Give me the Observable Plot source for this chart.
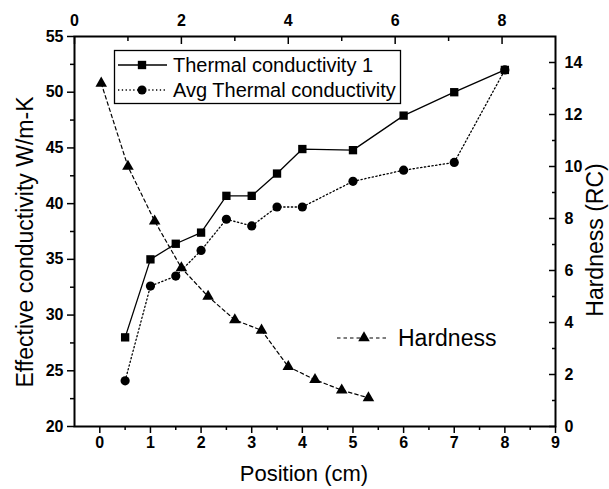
<!DOCTYPE html>
<html><head><meta charset="utf-8">
<script src="https://cdn.jsdelivr.net/npm/d3@7"></script>
<script src="https://cdn.jsdelivr.net/npm/@observablehq/plot@0.6"></script>
<style>
body{margin:0;background:#fff;}
#chart svg{display:block;}
</style></head><body><div id="chart"></div>
<script>
// Data (bottom axis: Position (cm); hardness is read on the top axis)
const positions = [0.5, 1, 1.5, 2, 2.5, 3, 3.5, 4, 5, 6, 7, 8];
const thermal1 = [28.0, 35.0, 36.4, 37.4, 40.7, 40.7, 42.7, 44.9, 44.8, 47.9, 50.0, 52.0];
const avgThermal = [24.1, 32.6, 33.5, 35.8, 38.6, 38.0, 39.7, 39.7, 42.0, 43.0, 43.7, 52.0];
const hardnessPos = [0.5, 1, 1.5, 2, 2.5, 3, 3.5, 4, 4.5, 5, 5.5];
const hardness = [13.2, 10.0, 7.9, 6.1, 5.0, 4.1, 3.7, 2.3, 1.8, 1.4, 1.1];

// Tick labels
const bottomTicks = [0, 1, 2, 3, 4, 5, 6, 7, 8, 9];
const bottomMinor = [0.5, 1.5, 2.5, 3.5, 4.5, 5.5, 6.5, 7.5, 8.5];
const topTicks = [0, 2, 4, 6, 8];
const topMinor = [1, 3, 5, 7];
const leftTicks = [20, 25, 30, 35, 40, 45, 50, 55];
const leftMinor = [22.5, 27.5, 32.5, 37.5, 42.5, 47.5, 52.5];
const rightTicks = [0, 2, 4, 6, 8, 10, 12, 14];
const rightMinor = [1, 3, 5, 7, 9, 11, 13];

const xDomain = [-0.5, 9], topDomain = [0, 9];
const yDomain = [20, 55], rightDomain = [0, 15];
const topToX = t => xDomain[0] + (t - topDomain[0]) * (xDomain[1] - xDomain[0]) / (topDomain[1] - topDomain[0]);
const xToTop = x => topDomain[0] + (x - xDomain[0]) * (topDomain[1] - topDomain[0]) / (xDomain[1] - xDomain[0]);
const rightToY = h => yDomain[0] + (h - rightDomain[0]) * (yDomain[1] - yDomain[0]) / (rightDomain[1] - rightDomain[0]);
const yToRight = y => rightDomain[0] + (y - yDomain[0]) * (rightDomain[1] - rightDomain[0]) / (yDomain[1] - yDomain[0]);

const t1Data = positions.map((p, i) => ({x: p, y: thermal1[i]}));
const avgData = positions.map((p, i) => ({x: p, y: avgThermal[i]}));
const hData = hardnessPos.map((t, i) => ({x: topToX(t), y: rightToY(hardness[i])}));

const blank = () => "";
const plot = Plot.plot({
  width: 609, height: 489,
  marginLeft: 74, marginRight: 54, marginTop: 36, marginBottom: 63,
  style: {fontFamily: "'Liberation Sans Narrow', 'Liberation Sans', Arial, sans-serif", fontSize: "16px", fontWeight: "bold", color: "black", background: "white"},
  x: {domain: xDomain},
  y: {domain: yDomain},
  marks: [
    // axes
    Plot.axisX({anchor: "bottom", ticks: bottomTicks, tickSize: 7, tickPadding: 3, label: null, strokeWidth: 1.5}),
    Plot.axisX({anchor: "bottom", ticks: bottomMinor, tickSize: 4, tickFormat: blank, label: null, strokeWidth: 1.5}),
    Plot.axisX({anchor: "top", ticks: topTicks.map(topToX), tickSize: -7, tickFormat: blank, label: null, strokeWidth: 1.5}),
    Plot.axisX({anchor: "top", ticks: topMinor.map(topToX), tickSize: -4, tickFormat: blank, label: null, strokeWidth: 1.5}),
    Plot.axisX({anchor: "top", ticks: topTicks.map(topToX), tickSize: 0, tickPadding: 11, tickFormat: v => Math.round(xToTop(v)), label: null}),
    Plot.axisY({anchor: "left", ticks: leftTicks, tickSize: 7, tickPadding: 4, label: null, strokeWidth: 1.5}),
    Plot.axisY({anchor: "left", ticks: leftMinor, tickSize: 4, tickFormat: blank, label: null, strokeWidth: 1.5}),
    Plot.axisY({anchor: "right", ticks: rightTicks.map(rightToY), tickSize: -7, tickFormat: blank, label: null, strokeWidth: 1.5}),
    Plot.axisY({anchor: "right", ticks: rightMinor.map(rightToY), tickSize: -4, tickFormat: blank, label: null, strokeWidth: 1.5}),
    Plot.axisY({anchor: "right", ticks: rightTicks.map(rightToY), tickSize: 0, tickPadding: 9, tickFormat: v => Math.round(yToRight(v)), label: null}),
    Plot.frame({stroke: "black", strokeWidth: 2}),
    // series
    Plot.line(hData, {x: "x", y: "y", stroke: "black", strokeWidth: 1.2, strokeDasharray: "3.5,3"}),
    Plot.dot(hData, {x: "x", y: "y", symbol: "triangle", r: 4.3, fill: "black", stroke: "none"}),
    Plot.line(avgData, {x: "x", y: "y", stroke: "black", strokeWidth: 1.3, strokeDasharray: "1.3,2.5"}),
    Plot.dot(avgData, {x: "x", y: "y", symbol: "circle", r: 4.6, fill: "black", stroke: "none"}),
    Plot.line(t1Data, {x: "x", y: "y", stroke: "black", strokeWidth: 1.3}),
    Plot.dot(t1Data, {x: "x", y: "y", symbol: "square", r: 4.7, fill: "black", stroke: "none"})
  ]
});
document.getElementById("chart").appendChild(plot);

// Titles and in-plot legend
const svg = d3.select(plot);
const titleFont = "'Liberation Sans', Arial, sans-serif";
svg.append("text").text("Position (cm)")
  .attr("x", 304).attr("y", 481).attr("text-anchor", "middle")
  .style("font-family", titleFont).style("font-size", "22px").style("font-weight", "normal");
svg.append("text").text("Effective conductivity W/m-K")
  .attr("transform", "translate(33,242) rotate(-90)").attr("text-anchor", "middle")
  .style("font-family", titleFont).style("font-size", "23px").style("font-weight", "normal");
svg.append("text").text("Hardness (RC)")
  .attr("transform", "translate(603,240) rotate(-90)").attr("text-anchor", "middle")
  .style("font-family", titleFont).style("font-size", "23px").style("font-weight", "normal");

const lg = svg.append("g");
lg.append("rect").attr("x", 114.5).attr("y", 50.5).attr("width", 286).attr("height", 53)
  .attr("fill", "white").attr("stroke", "black").attr("stroke-width", 1.3);
const entries = [
  {label: "Thermal conductivity 1", y: 65, dash: null, sym: d3.symbolSquare, size: 70},
  {label: "Avg Thermal conductivity", y: 90, dash: "1.3,2.5", sym: d3.symbolCircle, size: 66}
];
for (const e of entries) {
  lg.append("line").attr("x1", 118).attr("x2", 167).attr("y1", e.y).attr("y2", e.y)
    .attr("stroke", "black").attr("stroke-width", 1.3).attr("stroke-dasharray", e.dash);
  lg.append("path").attr("d", d3.symbol(e.sym, e.size)()).attr("transform", `translate(142,${e.y})`).attr("fill", "black");
  lg.append("text").text(e.label).attr("x", 173).attr("y", e.y + 7).attr("text-anchor", "start")
    .style("font-family", titleFont).style("font-size", "20px").style("font-weight", "normal");
}
const hg = svg.append("g");
hg.append("line").attr("x1", 337).attr("x2", 389).attr("y1", 338).attr("y2", 338)
  .attr("stroke", "black").attr("stroke-width", 1.2).attr("stroke-dasharray", "3.5,3");
hg.append("path").attr("d", d3.symbol(d3.symbolTriangle, 58)()).attr("transform", "translate(364,338)").attr("fill", "black");
hg.append("text").text("Hardness").attr("x", 398).attr("y", 346).attr("text-anchor", "start")
  .style("font-family", titleFont).style("font-size", "23px").style("font-weight", "normal");
</script></body></html>
